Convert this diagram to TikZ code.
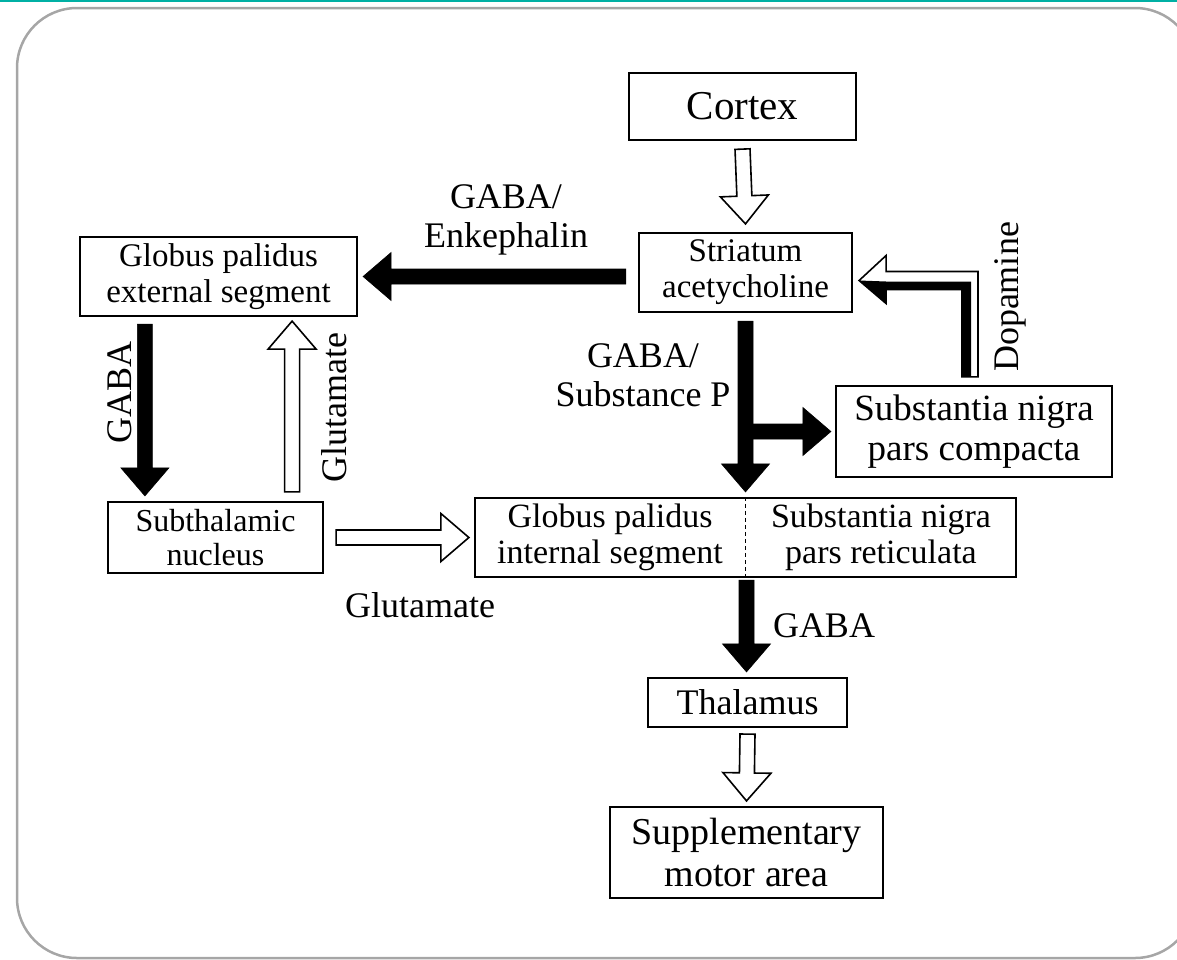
\documentclass[tikz,border=0pt]{standalone}
\usepackage{fontspec}
\setmainfont{Liberation Serif}
\usepackage{tikz}
\usetikzlibrary{calc}
\definecolor{frameteal}{RGB}{0,176,164}

% block arrow from #2 to #3
\newcommand{\fatarrow}[3][]{%
  \coordinate (fa-b) at ($(#3)!28pt!(#2)$);
  \draw[#1] ($(#2)!7.5pt!90:(#3)$) -- ($(fa-b)!7.5pt!-90:(#2)$) -- ($(fa-b)!24pt!-90:(#2)$)
    -- (#3) -- ($(fa-b)!24pt!90:(#2)$) -- ($(fa-b)!7.5pt!90:(#2)$) -- ($(#2)!7.5pt!-90:(#3)$) -- cycle;}

\begin{document}
\begin{tikzpicture}[x=1pt,y=-1pt,
  box/.style={draw,line width=2.2pt,inner sep=0pt,align=center,font=\fontsize{34}{37}\selectfont},
  lbl/.style={inner sep=0pt,align=center,font=\fontsize{36}{39}\selectfont},
  blackarr/.style={fill=black,draw=black,line width=0.6pt},
  hollowarr/.style={fill=white,draw=black,line width=1.6pt,line join=miter}]
\useasboundingbox (0,0) rectangle (1177,959);
\draw[frameteal,line width=2.5pt] (0,1) -- (1177,1);
\draw[gray!70,line width=2.5pt,rounded corners=60pt] (17,8) rectangle (1195,958);

% boxes
\node[box,minimum width=227pt,minimum height=67pt,font=\fontsize{41}{44}\selectfont] (cortex) at (742.5,106.5) {Cortex};
\node[box,minimum width=213pt,minimum height=79pt,font=\fontsize{33}{36}\selectfont] (striatum) at (745.5,272.5) {Striatum\\acetycholine};
\node[box,minimum width=277pt,minimum height=79pt,font=\fontsize{33}{36}\selectfont] (gpe) at (218.5,276.5) {Globus palidus\\external segment};
\node[box,minimum width=215pt,minimum height=71pt,font=\fontsize{32}{34}\selectfont] (stn) at (215.5,537.5) {Subthalamic\\nucleus};
\node[box,minimum width=276pt,minimum height=91pt,font=\fontsize{37}{40}\selectfont] (snc) at (974,431.5) {Substantia nigra\\pars compacta};
\node[box,minimum width=541pt,minimum height=79pt] (gp) at (745.5,537.5) {};
\node[align=center,inner sep=0pt,font=\fontsize{34}{36}\selectfont] (gpi) at (610,537.5) {Globus palidus\\internal segment};
\node[align=center,inner sep=0pt,font=\fontsize{34}{36}\selectfont] (snr) at (881,537.5) {Substantia nigra\\pars reticulata};
\draw[line width=1.2pt,dash pattern=on 4pt off 3pt] (gp.north) -- (gp.south);
\node[box,minimum width=199pt,minimum height=49pt,font=\fontsize{36}{39}\selectfont] (thal) at (747.5,702.5) {Thalamus};
\node[box,minimum width=273pt,minimum height=91pt,font=\fontsize{38}{42}\selectfont] (sma) at (746.5,852.5) {Supplementary\\motor area};

% arrows
\coordinate (c1) at ($(cortex.south)+(0,8)$);
\coordinate (c2) at ($(striatum.north)+(0,-8)$);
\fatarrow[hollowarr]{c1}{c2}
\coordinate (e1) at ($(gpe.east -| striatum.west)+(-12,0)$);
\coordinate (e2) at ($(gpe.east)+(5,0)$);
\fatarrow[blackarr]{e1}{e2}
\coordinate (g1) at ($(gpe.south west)+(66,7)$);
\coordinate (g2) at ($(stn.north west)+(38,-5)$);
\fatarrow[blackarr]{g1}{g2}
\coordinate (u1) at ($(stn.north east)+(-32,-9)$);
\coordinate (u2) at ($(gpe.south east)+(-66,4)$);
\fatarrow[hollowarr]{u1}{u2}
\coordinate (h1) at ($(stn.east)+(12,0)$);
\coordinate (h2) at ($(gp.west)+(-5,0)$);
\fatarrow[hollowarr]{h1}{h2}
\coordinate (s1) at ($(striatum.south)+(0,8)$);
\coordinate (s2) at ($(gp.north)+(0,-5)$);
\fatarrow[blackarr]{s1}{s2}
\coordinate (b1) at (striatum.south |- snc.west);
\coordinate (b2) at ($(snc.west)+(-4,0)$);
\fatarrow[blackarr]{b1}{b2}
\coordinate (t1) at ($(gp.south)+(1,2)$);
\coordinate (t2) at ($(thal.north)+(-1,-5)$);
\fatarrow[blackarr]{t1}{t2}
\coordinate (m1) at ($(thal.south)+(0,6)$);
\coordinate (m2) at ($(sma.north)+(0,-5)$);
\fatarrow[hollowarr]{m1}{m2}

% dopamine arrow
\coordinate (d1) at ($(snc.north)+(-4,-8)$);
\coordinate (d2) at ($(striatum.east)+(6,8)$);
\coordinate (d3) at (d1 |- d2);
\draw[hollowarr] ($(d1)+(8,0)$) -- ($(d3)+(8,-9)$) -- ($(d2)+(27,-9)$) -- ($(d2)+(27,-25)$) -- (d2)
  -- ($(d2)+(27,23)$) -- ($(d2)+(27,9)$) -- ($(d3)+(-8,9)$) -- ($(d1)+(-8,0)$) -- cycle;
\fill (d2) -- ($(d2)+(27,23)$) -- ($(d2)+(27,9)$) -- ($(d3)+(-8,9)$) -- ($(d1)+(-8,0)$)
  -- ($(d1)+(1,0)$) -- ($(d3)+(1,1)$) -- ($(d2)+(27,1)$) -- cycle;

% labels
\node[lbl] (lenk) at (506,220) {GABA/\\Enkephalin};
\node[lbl,rotate=90] (lgaba1) at (120,392) {GABA};
\node[lbl,rotate=90] (lglu1) at (334,408) {Glutamate};
\node[lbl] (lsubp) at (643,375) {GABA/\\Substance P};
\node[lbl,rotate=90] (ldopa) at (1010,297) {Dopamine};
\node[lbl] (lglu2) at (420,605) {Glutamate};
\node[lbl] (lgaba2) at (824,626) {GABA};
\end{tikzpicture}
\end{document}
